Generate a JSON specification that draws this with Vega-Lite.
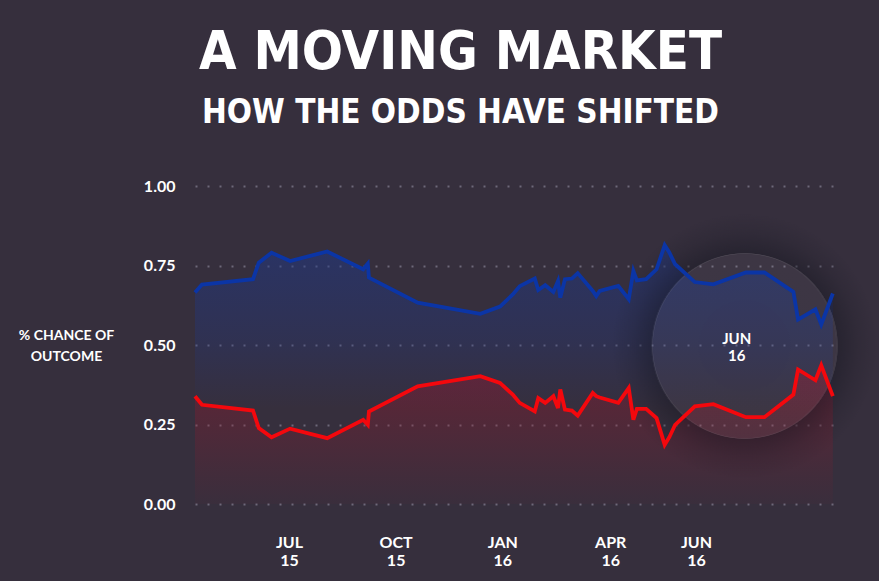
{
  "$schema": "https://vega.github.io/schema/vega-lite/v6.json",
  "width": 639,
  "height": 318,
  "autosize": {"type": "none"},
  "padding": {"left": 195, "top": 186, "right": 45, "bottom": 77},
  "background": "#362f3d",
  "config": {"view": {"stroke": null}},
  "title": {
    "text": "A MOVING MARKET",
    "subtitle": "HOW THE ODDS HAVE SHIFTED",
    "font": "DejaVu Sans Condensed",
    "fontWeight": "bold",
    "fontSize": 54,
    "color": "#ffffff",
    "subtitleFont": "DejaVu Sans Condensed",
    "subtitleFontWeight": "bold",
    "subtitleFontSize": 33,
    "subtitleColor": "#ffffff",
    "subtitlePadding": 17,
    "anchor": "middle",
    "frame": "group",
    "dx": -54,
    "offset": 48
  },
  "datasets": {
    "odds": [
      {"date": "2015-04-25", "blue": 0.665, "red": 0.339},
      {"date": "2015-05-01", "blue": 0.69, "red": 0.312},
      {"date": "2015-06-14", "blue": 0.707, "red": 0.294},
      {"date": "2015-06-19", "blue": 0.759, "red": 0.239},
      {"date": "2015-06-30", "blue": 0.79, "red": 0.21},
      {"date": "2015-07-16", "blue": 0.764, "red": 0.237},
      {"date": "2015-08-17", "blue": 0.794, "red": 0.207},
      {"date": "2015-09-17", "blue": 0.738, "red": 0.265},
      {"date": "2015-09-21", "blue": 0.756, "red": 0.249},
      {"date": "2015-09-22", "blue": 0.712, "red": 0.291},
      {"date": "2015-11-03", "blue": 0.633, "red": 0.37},
      {"date": "2015-12-27", "blue": 0.598, "red": 0.402},
      {"date": "2016-01-13", "blue": 0.621, "red": 0.381},
      {"date": "2016-01-24", "blue": 0.659, "red": 0.344},
      {"date": "2016-01-30", "blue": 0.685, "red": 0.318},
      {"date": "2016-02-12", "blue": 0.709, "red": 0.291},
      {"date": "2016-02-15", "blue": 0.673, "red": 0.333},
      {"date": "2016-02-21", "blue": 0.688, "red": 0.318},
      {"date": "2016-02-28", "blue": 0.667, "red": 0.339},
      {"date": "2016-03-03", "blue": 0.701, "red": 0.302},
      {"date": "2016-03-05", "blue": 0.649, "red": 0.36},
      {"date": "2016-03-09", "blue": 0.707, "red": 0.297},
      {"date": "2016-03-15", "blue": 0.709, "red": 0.294},
      {"date": "2016-03-20", "blue": 0.726, "red": 0.278},
      {"date": "2016-04-02", "blue": 0.67, "red": 0.349},
      {"date": "2016-04-05", "blue": 0.654, "red": 0.339},
      {"date": "2016-04-08", "blue": 0.67, "red": 0.335},
      {"date": "2016-04-24", "blue": 0.686, "red": 0.318},
      {"date": "2016-05-03", "blue": 0.644, "red": 0.365},
      {"date": "2016-05-07", "blue": 0.733, "red": 0.265},
      {"date": "2016-05-10", "blue": 0.703, "red": 0.299},
      {"date": "2016-05-18", "blue": 0.707, "red": 0.299},
      {"date": "2016-05-27", "blue": 0.738, "red": 0.27},
      {"date": "2016-06-03", "blue": 0.814, "red": 0.186},
      {"date": "2016-06-07", "blue": 0.791, "red": 0.21},
      {"date": "2016-06-12", "blue": 0.754, "red": 0.249},
      {"date": "2016-06-29", "blue": 0.698, "red": 0.307},
      {"date": "2016-07-15", "blue": 0.691, "red": 0.314},
      {"date": "2016-08-12", "blue": 0.728, "red": 0.273},
      {"date": "2016-08-28", "blue": 0.728, "red": 0.273},
      {"date": "2016-09-22", "blue": 0.667, "red": 0.344},
      {"date": "2016-09-26", "blue": 0.58, "red": 0.423},
      {"date": "2016-10-11", "blue": 0.612, "red": 0.389},
      {"date": "2016-10-16", "blue": 0.565, "red": 0.436},
      {"date": "2016-10-26", "blue": 0.662, "red": 0.339}
    ],
    "highlight": [
      {"date": "2016-08-11", "v": 0.497, "label": "JUN\n16"}
    ]
  },
  "layer": [
    {
      "data": {"name": "odds"},
      "mark": {
        "type": "area",
        "fill": {
          "gradient": "linear", "x1": 0, "y1": 0, "x2": 0, "y2": 1,
          "stops": [
            {"offset": 0, "color": "rgba(30,56,140,0.5)"},
            {"offset": 0.6, "color": "rgba(30,56,140,0.26)"},
            {"offset": 1, "color": "rgba(30,56,140,0)"}
          ]
        }
      },
      "encoding": {
        "x": {
          "field": "date",
          "type": "temporal",
          "scale": {"domain": [{"year": 2015, "month": 4, "date": 25}, {"year": 2016, "month": 10, "date": 27}]},
          "axis": {
            "values": [
              {"year": 2015, "month": 7, "date": 15},
              {"year": 2015, "month": 10, "date": 15},
              {"year": 2016, "month": 1, "date": 15},
              {"year": 2016, "month": 4, "date": 17},
              {"year": 2016, "month": 6, "date": 30}
            ],
            "labelExpr": "[upper(timeFormat(datum.value, '%b')), timeFormat(datum.value, '%y')]",
            "grid": false,
            "domain": false,
            "ticks": false,
            "labelPadding": 30,
            "labelFont": "Lato",
            "labelFontSize": 16,
            "labelFontWeight": "bold",
            "labelColor": "#ffffff",
            "labelLineHeight": 18,
            "labelBaseline": "top",
            "title": null
          }
        },
        "y": {
          "field": "blue",
          "type": "quantitative",
          "scale": {"domain": [0, 1]},
          "axis": {
            "values": [0, 0.25, 0.5, 0.75, 1],
            "format": ".2f",
            "grid": true,
            "gridDash": [2, 10],
            "gridColor": "#8c8799",
            "gridOpacity": 0.65,
            "gridWidth": 2,
            "domain": false,
            "ticks": false,
            "labelPadding": 20,
            "labelFont": "Lato",
            "labelFontSize": 16,
            "labelFontWeight": "bold",
            "labelColor": "#ffffff",
            "title": ["% CHANCE OF", "OUTCOME"],
            "titleAngle": 0,
            "titleX": -129,
            "titleY": 142,
            "titleAlign": "center",
            "titleBaseline": "top",
            "titleFont": "Lato",
            "titleFontSize": 14,
            "titleFontWeight": "bold",
            "titleColor": "#ffffff",
            "titleLineHeight": 21
          }
        },
        "y2": {"datum": 0.3}
      }
    },
    {
      "data": {"name": "odds"},
      "mark": {
        "type": "area",
        "fill": {
          "gradient": "linear", "x1": 0, "y1": 0, "x2": 0, "y2": 1,
          "stops": [
            {"offset": 0, "color": "rgba(150,24,45,0.45)"},
            {"offset": 1, "color": "rgba(150,24,45,0.04)"}
          ]
        }
      },
      "encoding": {
        "x": {"field": "date", "type": "temporal"},
        "y": {"field": "red", "type": "quantitative"},
        "y2": {"datum": 0}
      }
    },
    {
      "data": {"name": "highlight"},
      "mark": {
        "type": "point",
        "shape": "circle",
        "filled": true,
        "opacity": 1,
        "size": 70686,
        "strokeWidth": 0,
        "fill": {
          "gradient": "radial", "x1": 0.5, "y1": 0.5, "r1": 0, "x2": 0.5, "y2": 0.5, "r2": 0.5,
          "stops": [
            {"offset": 0, "color": "rgba(255,255,255,0.03)"},
            {"offset": 0.69, "color": "rgba(255,255,255,0.035)"},
            {"offset": 0.70, "color": "rgba(16,18,28,0.38)"},
            {"offset": 0.85, "color": "rgba(16,18,28,0.15)"},
            {"offset": 1, "color": "rgba(16,18,28,0)"}
          ]
        }
      },
      "encoding": {
        "x": {"field": "date", "type": "temporal"},
        "y": {"field": "v", "type": "quantitative"}
      }
    },
    {
      "data": {"name": "odds"},
      "mark": {"type": "line", "stroke": "#0b35a6", "strokeWidth": 3.8, "strokeJoin": "miter"},
      "encoding": {
        "x": {"field": "date", "type": "temporal"},
        "y": {"field": "blue", "type": "quantitative"}
      }
    },
    {
      "data": {"name": "odds"},
      "mark": {"type": "line", "stroke": "#f4080d", "strokeWidth": 3.8, "strokeJoin": "miter"},
      "encoding": {
        "x": {"field": "date", "type": "temporal"},
        "y": {"field": "red", "type": "quantitative"}
      }
    },
    {
      "data": {"name": "highlight"},
      "mark": {
        "type": "text",
        "font": "Lato",
        "fontSize": 15,
        "fontWeight": "bold",
        "color": "#ffffff",
        "lineBreak": "\n",
        "lineHeight": 17,
        "align": "center",
        "baseline": "middle",
        "dx": -8,
        "dy": -7
      },
      "encoding": {
        "x": {"field": "date", "type": "temporal"},
        "y": {"field": "v", "type": "quantitative"},
        "text": {"field": "label"}
      }
    }
  ]
}
